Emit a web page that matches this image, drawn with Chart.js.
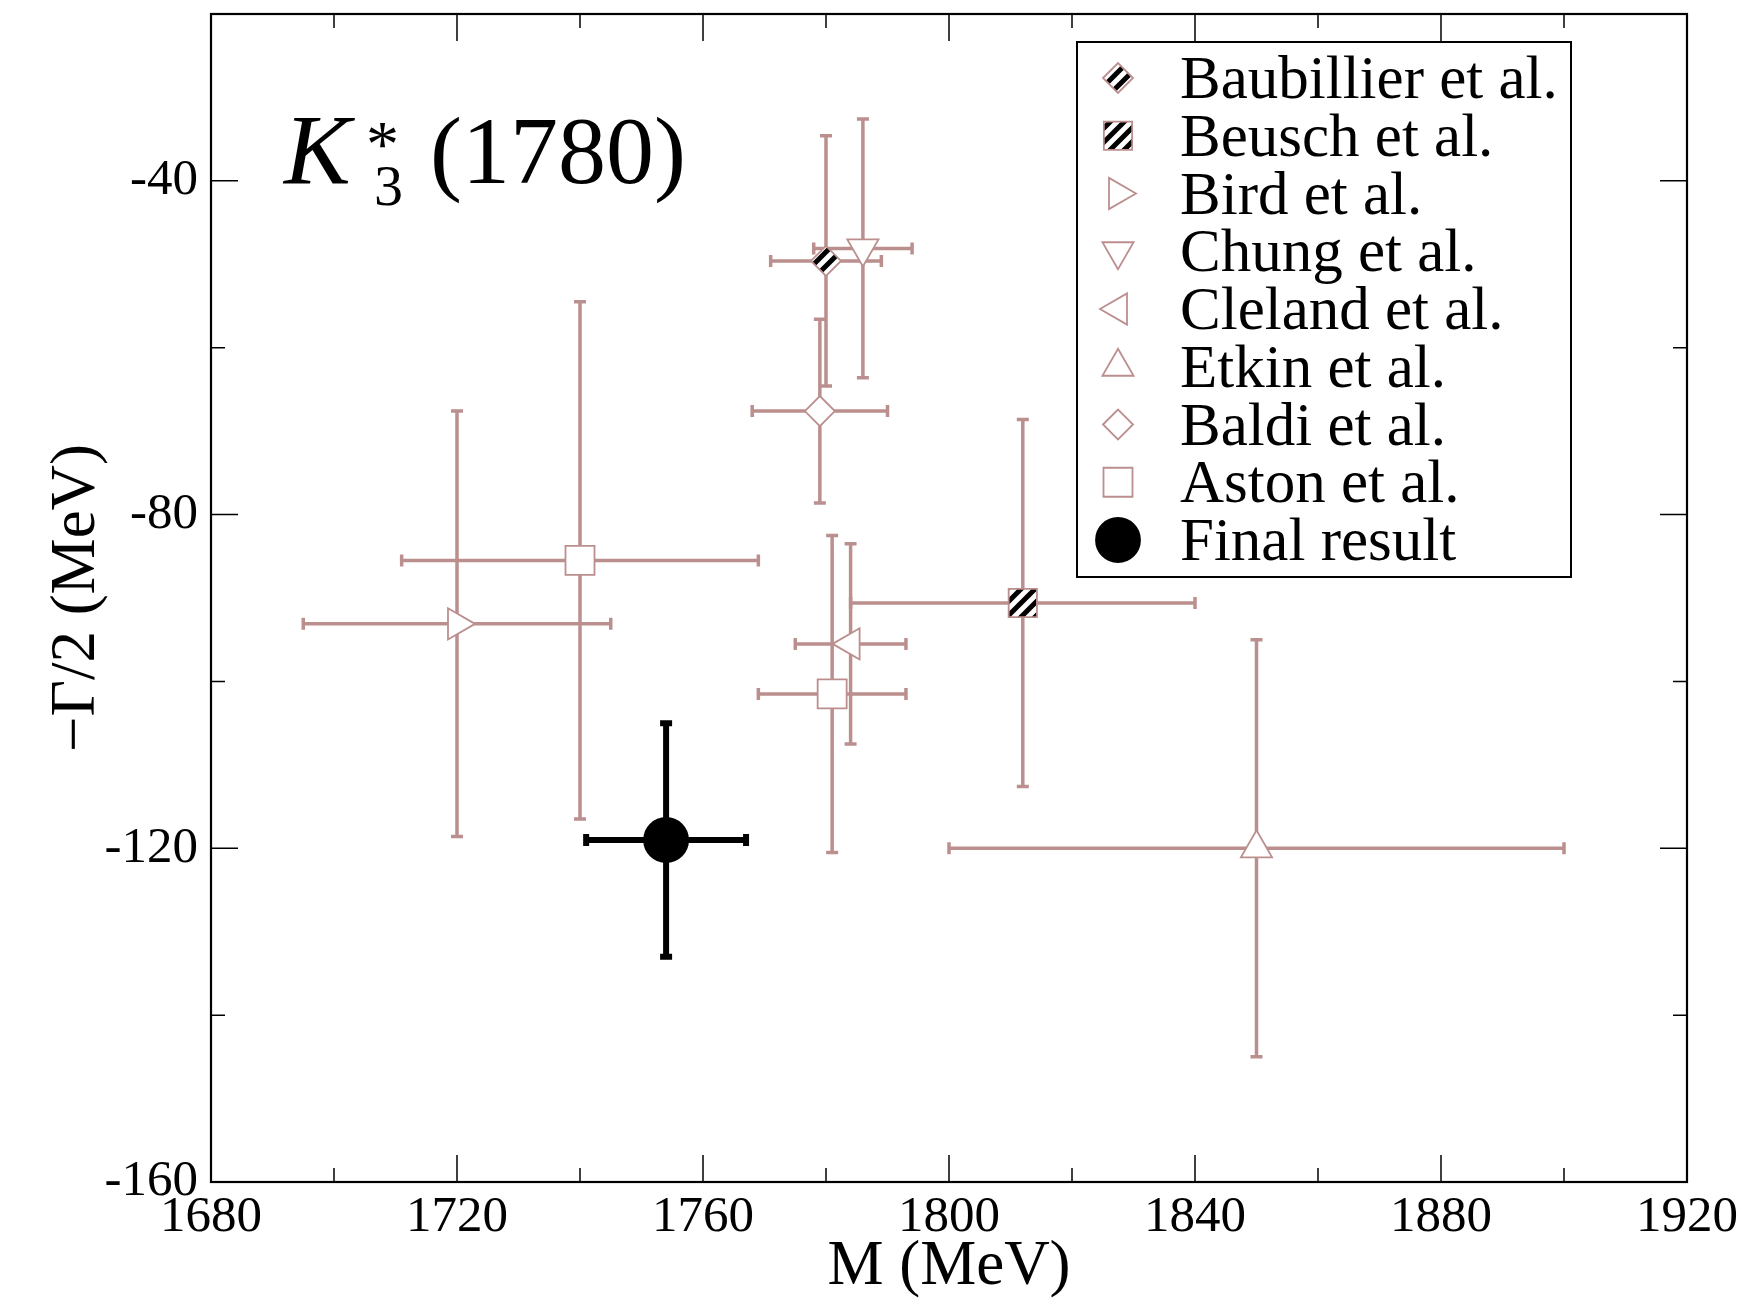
<!DOCTYPE html>
<html>
<head>
<meta charset="utf-8">
<script src="https://cdn.jsdelivr.net/npm/chart.js"></script>
<style>
  html, body { margin: 0; padding: 0; background: #fff; }
  canvas { display: block; }
</style>
</head>
<body>
<canvas id="chart" width="1757" height="1300"></canvas>
<script>
// Experiments shown in the legend
const seriesNames = ['Baubillier et al.', 'Beusch et al.', 'Bird et al.', 'Chung et al.', 'Cleland et al.',
    'Etkin et al.', 'Baldi et al.', 'Aston et al.', 'Final result'];
// which experiment each point belongs to (Aston has two points)
const pointSeries = [0, 1, 2, 3, 4, 5, 6, 7, 7, 8];
const massValues = [1780, 1812, 1720, 1786, 1784, 1850, 1779, 1740, 1781, 1754];
const massErrors = [9, 28, 25, 8, 9, 50, 11, 29, 12, 13];
const widthValues = [-49.6, -90.6, -93.1, -48.1, -95.5, -120, -67.6, -85.5, -101.5, -119];
const widthErrors = [15, 22, 25.5, 15.5, 12, 25, 11, 31, 19, 14];
const xTickLabels = [1680, 1720, 1760, 1800, 1840, 1880, 1920];
const yTickLabels = [-160, -120, -80, -40];

const rosy = '#bc8f8f';
const serif = '"Liberation Serif", "Times New Roman", serif';

const canvas = document.getElementById('chart');
const ctx = canvas.getContext('2d');

// black/white diagonal stripes for the hatched symbols
function makeHatch() {
    const c = document.createElement('canvas');
    c.width = 14; c.height = 14;
    const g = c.getContext('2d');
    g.fillStyle = '#fff';
    g.fillRect(0, 0, 14, 14);
    g.strokeStyle = '#000';
    g.lineWidth = 5;
    g.beginPath();
    g.moveTo(-7, 7); g.lineTo(7, -7);
    g.moveTo(0, 14); g.lineTo(14, 0);
    g.moveTo(7, 21); g.lineTo(21, 7);
    g.stroke();
    return ctx.createPattern(c, 'repeat');
}
const hatch = makeHatch();

// marker look for each experiment
const seriesStyles = [
    { style: 'rectRot', radius: 15, rotation: 0, fill: hatch },
    { style: 'rect', radius: 20, rotation: 0, fill: hatch },
    { style: 'triangle', radius: 18, rotation: 90, fill: '#fff' },
    { style: 'triangle', radius: 18, rotation: 180, fill: '#fff' },
    { style: 'triangle', radius: 18, rotation: 270, fill: '#fff' },
    { style: 'triangle', radius: 18, rotation: 0, fill: '#fff' },
    { style: 'rectRot', radius: 15, rotation: 0, fill: '#fff' },
    { style: 'rect', radius: 20.5, rotation: 0, fill: '#fff' },
    { style: 'circle', radius: 22, rotation: 0, fill: '#000', color: '#000', bar: 6 }
];

const datasets = seriesNames.map((name, s) => {
    const st = seriesStyles[s];
    const pts = [];
    pointSeries.forEach((ps, k) => {
        if (ps === s) {
            pts.push({ x: massValues[k], y: widthValues[k], xErr: massErrors[k], yErr: widthErrors[k] });
        }
    });
    return {
        label: name,
        data: pts,
        pointStyle: st.style,
        pointRadius: st.radius,
        pointRotation: st.rotation,
        backgroundColor: st.fill,
        borderColor: st.color || rosy,
        pointBorderWidth: 1.8,
        barWidth: st.bar || 3.5
    };
});

// error bars with caps, drawn under the symbols
const errorBars = {
    id: 'errorBars',
    beforeDatasetsDraw(chart) {
        const { ctx, scales: { x, y } } = chart;
        ctx.save();
        chart.data.datasets.forEach(ds => {
            ctx.strokeStyle = ds.borderColor;
            ctx.lineWidth = ds.barWidth;
            ds.data.forEach(p => {
                const px = x.getPixelForValue(p.x);
                const py = y.getPixelForValue(p.y);
                const x0 = x.getPixelForValue(p.x - p.xErr);
                const x1 = x.getPixelForValue(p.x + p.xErr);
                const y0 = y.getPixelForValue(p.y - p.yErr);
                const y1 = y.getPixelForValue(p.y + p.yErr);
                ctx.beginPath();
                ctx.moveTo(x0, py); ctx.lineTo(x1, py);
                ctx.moveTo(px, y0); ctx.lineTo(px, y1);
                // caps
                ctx.moveTo(x0, py - 6); ctx.lineTo(x0, py + 6);
                ctx.moveTo(x1, py - 6); ctx.lineTo(x1, py + 6);
                ctx.moveTo(px - 6, y0); ctx.lineTo(px + 6, y0);
                ctx.moveTo(px - 6, y1); ctx.lineTo(px + 6, y1);
                ctx.stroke();
            });
        });
        ctx.restore();
    }
};

// box round the plot with inward ticks on all four sides
const frame = {
    id: 'frame',
    afterDraw(chart) {
        const { ctx, chartArea: a, scales: { x, y } } = chart;
        ctx.save();
        ctx.strokeStyle = '#000';
        ctx.lineWidth = 1.5;
        ctx.beginPath();
        x.ticks.forEach(t => {
            const px = x.getPixelForValue(t.value);
            const len = xTickLabels.includes(t.value) ? 27 : 14;
            ctx.moveTo(px, a.bottom); ctx.lineTo(px, a.bottom - len);
            ctx.moveTo(px, a.top); ctx.lineTo(px, a.top + len);
        });
        y.ticks.forEach(t => {
            const py = y.getPixelForValue(t.value);
            const len = yTickLabels.includes(t.value) ? 27 : 14;
            ctx.moveTo(a.left, py); ctx.lineTo(a.left + len, py);
            ctx.moveTo(a.right, py); ctx.lineTo(a.right - len, py);
        });
        ctx.stroke();
        ctx.lineWidth = 2.2;
        ctx.strokeRect(a.left, a.top, a.right - a.left, a.bottom - a.top);
        ctx.restore();
    }
};

// K*_3(1780) label in the upper left corner
const stateLabel = {
    id: 'stateLabel',
    afterDraw(chart) {
        const ctx = chart.ctx;
        ctx.save();
        ctx.fillStyle = '#000';
        ctx.textBaseline = 'alphabetic';
        ctx.textAlign = 'left';
        ctx.font = 'italic 100px ' + serif;
        ctx.fillText('K', 284, 183);
        ctx.font = '66px ' + serif;
        ctx.fillText('*', 366, 166);
        ctx.font = '58px ' + serif;
        ctx.fillText('3', 374, 205);
        ctx.font = '96px ' + serif;
        ctx.fillText('(1780)', 430, 183);
        ctx.restore();
    }
};

// legend box inside the plot, top right
const boxLegend = {
    id: 'boxLegend',
    afterDraw(chart) {
        const ctx = chart.ctx;
        const left = 1077, top = 42, right = 1571, bottom = 577;
        const first = 98, step = 57.75;
        ctx.save();
        ctx.fillStyle = '#fff';
        ctx.fillRect(left, top, right - left, bottom - top);
        ctx.strokeStyle = '#000';
        ctx.lineWidth = 2;
        ctx.strokeRect(left, top, right - left, bottom - top);
        chart.data.datasets.forEach((ds, i) => {
            const base = first + i * step;
            ctx.fillStyle = ds.backgroundColor;
            ctx.strokeStyle = ds.borderColor;
            ctx.lineWidth = ds.pointBorderWidth;
            Chart.helpers.drawPoint(ctx, {
                pointStyle: ds.pointStyle,
                radius: ds.pointRadius,
                rotation: ds.pointRotation,
                borderWidth: ds.pointBorderWidth
            }, 1118, base - 20);
            ctx.fillStyle = '#000';
            ctx.font = '61px ' + serif;
            ctx.textAlign = 'left';
            ctx.textBaseline = 'alphabetic';
            ctx.fillText(ds.label, 1180, base);
        });
        ctx.restore();
    }
};

new Chart(ctx, {
    type: 'scatter',
    data: { datasets: datasets },
    options: {
        responsive: false,
        animation: false,
        events: [],
        layout: { autoPadding: false, padding: { top: 14, right: 70, left: 0, bottom: 0 } },
        scales: {
            x: {
                type: 'linear',
                min: 1680,
                max: 1920,
                grid: { display: false, drawTicks: false },
                border: { display: false },
                afterFit(scale) {
                    scale.height = 118;
                    scale.paddingLeft = 0;
                    scale.paddingRight = 0;
                },
                ticks: {
                    stepSize: 20,
                    autoSkip: false,
                    maxRotation: 0,
                    padding: 5,
                    color: '#000',
                    font: { family: serif, size: 51 },
                    callback: v => (xTickLabels.includes(v) ? String(v) : '')
                },
                title: {
                    display: true,
                    text: 'M (MeV)',
                    color: '#000',
                    font: { family: serif, size: 63, lineHeight: 1.1 },
                    padding: { top: 0, bottom: -2 }
                }
            },
            y: {
                type: 'linear',
                min: -160,
                max: -20,
                grid: { display: false, drawTicks: false },
                border: { display: false },
                afterFit(scale) {
                    scale.width = 211;
                    scale.paddingTop = 0;
                    scale.paddingBottom = 0;
                },
                ticks: {
                    stepSize: 20,
                    autoSkip: false,
                    padding: 13,
                    color: '#000',
                    font: { family: serif, size: 51 },
                    callback: v => (yTickLabels.includes(v) ? String(v) : '')
                },
                title: {
                    display: true,
                    text: '\u2212\u0393/2 (MeV)',
                    color: '#000',
                    font: { family: serif, size: 63, lineHeight: 1.1 },
                    padding: { top: 43, bottom: 0 }
                }
            }
        },
        plugins: {
            legend: { display: false },
            tooltip: { enabled: false }
        }
    },
    plugins: [errorBars, frame, stateLabel, boxLegend]
});
</script>
</body>
</html>
